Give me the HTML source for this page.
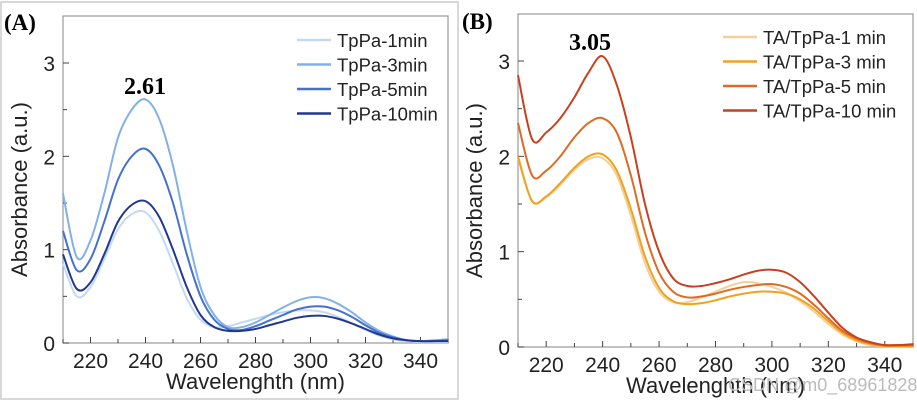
<!DOCTYPE html>
<html><head><meta charset="utf-8"><style>
html,body{margin:0;padding:0;background:#fff;}
svg{display:block;font-family:"Liberation Sans",sans-serif;}
</style></head><body>
<svg id="fig" width="917" height="402" viewBox="0 0 917 402">
<rect x="1" y="2" width="457" height="397" fill="none" stroke="#ccc" stroke-width="1.5"/>
<g id="pa"></g>
<g id="pb"></g>
<text x="4" y="30" font-family="Liberation Serif" font-weight="bold" font-size="23">(A)</text>
<text x="462" y="29" font-family="Liberation Serif" font-weight="bold" font-size="23">(B)</text>
<text x="124" y="94" font-family="Liberation Serif" font-weight="bold" font-size="24">2.61</text>
<text x="569" y="50" font-family="Liberation Serif" font-weight="bold" font-size="24">3.05</text>
<text x="728" y="391" font-size="18" fill="#bbb">CSDN @m0_68961828</text>
</svg>
<script>
const wl = [210,215,220,225,230,235,240,245,250,255,260,265,270,275,280,285,290,295,300,305,310,315,320,325,330,335,340,345,350];
const namesA = ["TpPa-1min","TpPa-3min","TpPa-5min","TpPa-10min"];
const a1 = [0.85,0.5,0.6,0.9,1.22,1.38,1.4,1.2,0.85,0.48,0.25,0.17,0.18,0.22,0.26,0.3,0.33,0.35,0.35,0.33,0.28,0.21,0.14,0.08,0.04,0.02,0.01,0.01,0.01];
const a3 = [1.6,0.92,1.1,1.6,2.2,2.5,2.61,2.4,1.9,1.2,0.6,0.3,0.17,0.17,0.22,0.3,0.38,0.45,0.49,0.48,0.42,0.33,0.22,0.13,0.07,0.03,0.02,0.03,0.04];
const a5 = [1.2,0.78,0.9,1.3,1.75,2.0,2.08,1.9,1.5,0.95,0.5,0.25,0.15,0.14,0.18,0.24,0.3,0.36,0.39,0.39,0.35,0.28,0.19,0.11,0.06,0.03,0.02,0.02,0.03];
const a10 = [0.95,0.58,0.65,0.95,1.3,1.48,1.52,1.35,1.0,0.6,0.3,0.17,0.13,0.13,0.15,0.19,0.23,0.27,0.29,0.29,0.26,0.21,0.15,0.09,0.05,0.03,0.02,0.02,0.02];
const namesB = ["TA/TpPa-1 min","TA/TpPa-3 min","TA/TpPa-5 min","TA/TpPa-10 min"];
const b1 = [1.98,1.53,1.57,1.7,1.86,1.97,1.98,1.8,1.38,0.88,0.58,0.47,0.47,0.52,0.58,0.64,0.68,0.67,0.63,0.57,0.48,0.37,0.24,0.13,0.06,0.02,0.01,0.01,0.01];
const b3 = [2.0,1.53,1.58,1.72,1.88,2.0,2.02,1.85,1.45,0.95,0.62,0.48,0.45,0.46,0.49,0.53,0.56,0.58,0.58,0.56,0.5,0.4,0.27,0.15,0.07,0.03,0.01,0.01,0.01];
const b5 = [2.35,1.8,1.85,2.0,2.2,2.35,2.4,2.25,1.8,1.2,0.78,0.58,0.52,0.53,0.56,0.6,0.63,0.65,0.66,0.63,0.56,0.44,0.3,0.17,0.09,0.04,0.02,0.02,0.02];
const b10 = [2.85,2.18,2.25,2.4,2.62,2.88,3.05,2.75,2.2,1.5,1.0,0.72,0.64,0.64,0.67,0.71,0.76,0.8,0.81,0.78,0.68,0.53,0.36,0.2,0.1,0.05,0.02,0.02,0.03];
const xTicks = [220,240,260,280,300,320,340];
const yTicks = [0,1,2,3];
const NS="http://www.w3.org/2000/svg";
function mk(t,at,p){const e=document.createElementNS(NS,t);for(const k in at)e.setAttribute(k,at[k]);p.appendChild(e);return e;}
function path(pts){let d="M"+pts[0][0]+","+pts[0][1];for(let i=0;i<pts.length-1;i++){const p0=pts[Math.max(i-1,0)],p1=pts[i],p2=pts[i+1],p3=pts[Math.min(i+2,pts.length-1)];
d+=" C"+(p1[0]+(p2[0]-p0[0])/6)+","+(p1[1]+(p2[1]-p0[1])/6)+" "+(p2[0]-(p3[0]-p1[0])/6)+","+(p2[1]-(p3[1]-p1[1])/6)+" "+p2[0]+","+p2[1];}return d;}
function panel(g,L,R,T,B,y3,y0,series,names,colors,lx,ly,tag){
  const x=v=>L+(v-210)/(350-210)*(R-L);
  const y=v=>y0+(y3-y0)*v/3;
  const fr=mk("rect",{x:L,y:T,width:R-L,height:B-T,fill:"none",stroke:"#999","stroke-width":1.2},g);
  
  for(let v=210;v<=350;v+=10){const t=mk("line",{x1:x(v),x2:x(v),y1:B,y2:B-(v%20==0?6:4),stroke:"#444"},g);
    }
  xTicks.forEach(v=>{const t=mk("text",{x:x(v),y:B+25,"text-anchor":"middle","font-size":21,fill:"#222"},g);t.textContent=v;
    });
  for(let v=0;v<=3.01;v+=0.5){const t=mk("line",{x1:L,x2:L+(v%1==0?6:4),y1:y(v),y2:y(v),stroke:"#444"},g);
    }
  yTicks.forEach(v=>{const t=mk("text",{x:L-8,y:y(v)+8,"text-anchor":"end","font-size":21,fill:"#222"},g);t.textContent=v;
    });
  const xt=mk("text",{x:(L+R)/2,y:B+46,"text-anchor":"middle","font-size":22,fill:"#222"},g);xt.textContent="Wavelenghth (nm)";
  
  const cy=(T+B)/2+10, cx=L-36;
  const yt=mk("text",{x:cx,y:cy,"text-anchor":"middle","font-size":22,fill:"#222",transform:"rotate(-90 "+cx+" "+cy+")"},g);yt.textContent="Absorbance (a.u.)";
  
  series.forEach((s,i)=>{const pts=wl.map((w,j)=>[x(w),y(s[j])]);
    const p=mk("path",{d:path(pts),fill:"none",stroke:colors[i],"stroke-width":2},g);
    
    const ll=mk("line",{x1:lx,x2:lx+34,y1:ly+i*24.5,y2:ly+i*24.5,stroke:colors[i],"stroke-width":2.5},g);
    
    const lt=mk("text",{x:lx+40,y:ly+i*24.5+7,"font-size":18.5,fill:"#222"},g);lt.textContent=names[i];
    });
}
panel(document.getElementById("pa"),63,448,16,343,63,343,[a1,a3,a5,a10],namesA,["#c3d9f3","#82b0ea","#4470d0","#22388f"],297,40,"a");
panel(document.getElementById("pb"),518,913,14,347,61,347,[b1,b3,b5,b10],namesB,["#f3cf9c","#f0a21e","#e06a22","#c9401e"],723,37,"b");
</script>
</body></html>
